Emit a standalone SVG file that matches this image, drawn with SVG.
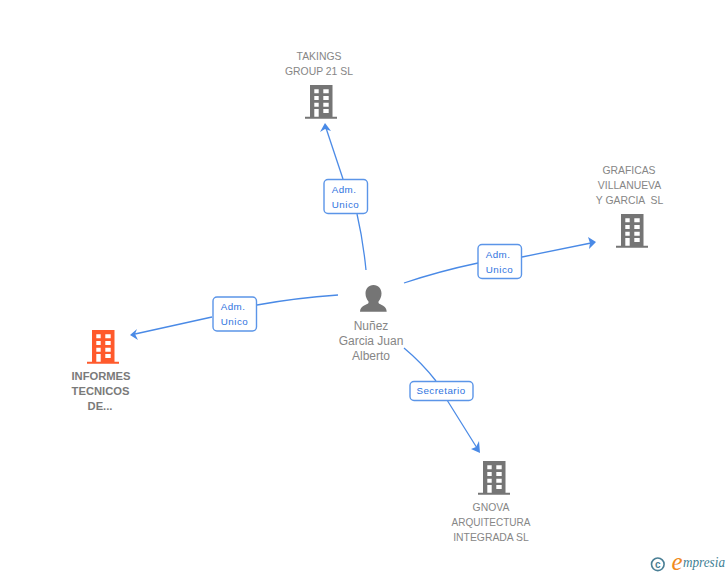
<svg xmlns="http://www.w3.org/2000/svg" width="728" height="575" viewBox="0 0 728 575">
<style>
text{font-family:"Liberation Sans",Arial,sans-serif;text-anchor:middle;white-space:pre}
.n{font-size:10.4px;fill:#868686}
.p{font-size:12px;fill:#868686}
.b{font-size:11.2px;fill:#7a7a7a;font-weight:bold}
.l{font-size:9.8px;fill:#2f74e0;letter-spacing:.45px}
.box{fill:#fff;stroke:#5b95e8;stroke-width:1.4}
.c{fill:none;stroke:#4a8ae6;stroke-width:1.3}
.h{fill:#4a8ae6}
</style>
<defs>
<symbol id="bld" width="32" height="34" viewBox="0 0 32 34" overflow="visible">
<path fill-rule="evenodd" d="M5 0H27.500V31.700H32V33.800H0V31.700H5ZM9.300 4.300V8.300H13.700V4.300ZM18.300 4.300V8.300H23.700V4.300ZM9.300 11V15H13.700V11ZM18.300 11V15H23.700V11ZM9.300 17.700V21.700H13.700V17.700ZM18.300 17.700V21.700H23.700V17.700ZM9.300 24V31.700H13.700V24ZM18.300 24V28H23.700V24Z"/>
</symbol>
</defs>
<rect width="728" height="575" fill="#fff"/>
<g id="connectors">
<path class="c" d="M366 270Q363 240 357 214"/>
<path class="c" d="M343 179L326 128"/>
<path class="h" d="M325 123L331 131L325 129L320 132Z"/>
<path class="c" d="M338 295Q295 298 257 305"/>
<path class="c" d="M212 317L135 334"/>
<path class="h" d="M130 335L137 329L135 334L138 340Z"/>
<path class="c" d="M404 283Q440 271 478 263"/>
<path class="c" d="M522 257L591 243"/>
<path class="h" d="M596 242L588 237L590 243L589 249Z"/>
<path class="c" d="M404 348Q422 363 436 381"/>
<path class="c" d="M447 400L477 448"/>
<path class="h" d="M480 453L471 449L476 447L479 441Z"/>
</g>
<g id="label-takings"><rect class="box" x="324" y="179.500" width="43.500" height="34" rx="4"/><text class="l" x="344" y="193">Adm.</text><text class="l" x="345.500" y="208">Unico</text></g>
<g id="label-informes"><rect class="box" x="213" y="297" width="43.500" height="34" rx="4"/><text class="l" x="233" y="310">Adm.</text><text class="l" x="234.500" y="325">Unico</text></g>
<g id="label-graficas"><rect class="box" x="478" y="244.500" width="43.500" height="34" rx="4"/><text class="l" x="498" y="258">Adm.</text><text class="l" x="499.500" y="273">Unico</text></g>
<g id="label-gnova"><rect class="box" x="410" y="381.500" width="63" height="19" rx="4"/><text class="l" x="441" y="394">Secretario</text></g>
<g id="node-takings"><use href="#bld" x="305" y="85" fill="#757575"/><text class="n" x="319" y="60">TAKINGS</text><text class="n" x="319" y="75">GROUP 21 SL</text></g>
<g id="node-graficas"><use href="#bld" x="616" y="214" fill="#757575"/><text class="n" x="629" y="174">GRAFICAS</text><text class="n" x="629.500" y="189">VILLANUEVA</text><text class="n" x="629.500" y="204">Y GARCIA  SL</text></g>
<g id="node-informes"><use href="#bld" x="87" y="330" fill="#ff5a2c"/><text class="b" x="101" y="380">INFORMES</text><text class="b" x="100.500" y="395">TECNICOS</text><text class="b" x="100" y="410">DE...</text></g>
<g id="node-gnova"><use href="#bld" x="478" y="461" fill="#757575"/><text class="n" x="491" y="511">GNOVA</text><text class="n" x="491" y="526" textLength="79" lengthAdjust="spacingAndGlyphs">ARQUITECTURA</text><text class="n" x="491" y="541">INTEGRADA SL</text></g>
<g id="node-person"><path fill="#757575" d="M373.500 285C378.500 285 381.500 289 381.500 293.500C381.500 297 380 299.500 378.500 301.500V303C380 305 386.700 305.500 386.700 311.700H360C360 305.500 367 305 368.500 303V301.500C367 299.500 365.500 297 365.500 293.500C365.500 289 368.500 285 373.500 285Z"/><text class="p" x="371" y="330">Nuñez</text><text class="p" x="371" y="345">Garcia Juan</text><text class="p" x="371" y="360">Alberto</text></g>
<g id="logo"><circle cx="657.800" cy="564.300" r="6.300" fill="none" stroke="#4a7f95" stroke-width="1.600"/><text x="657.800" y="567.800" style="font-size:10px;font-weight:bold;fill:#4a7f95">c</text><text x="677" y="570" style="font-size:25px;fill:#f08a1d;font-family:'Liberation Serif',serif;font-style:italic">e</text><text x="704" y="567" style="font-size:14px;fill:#3f7f95;font-family:'Liberation Serif',serif;font-style:italic" textLength="42" lengthAdjust="spacingAndGlyphs">mpresia</text></g>
</svg>
